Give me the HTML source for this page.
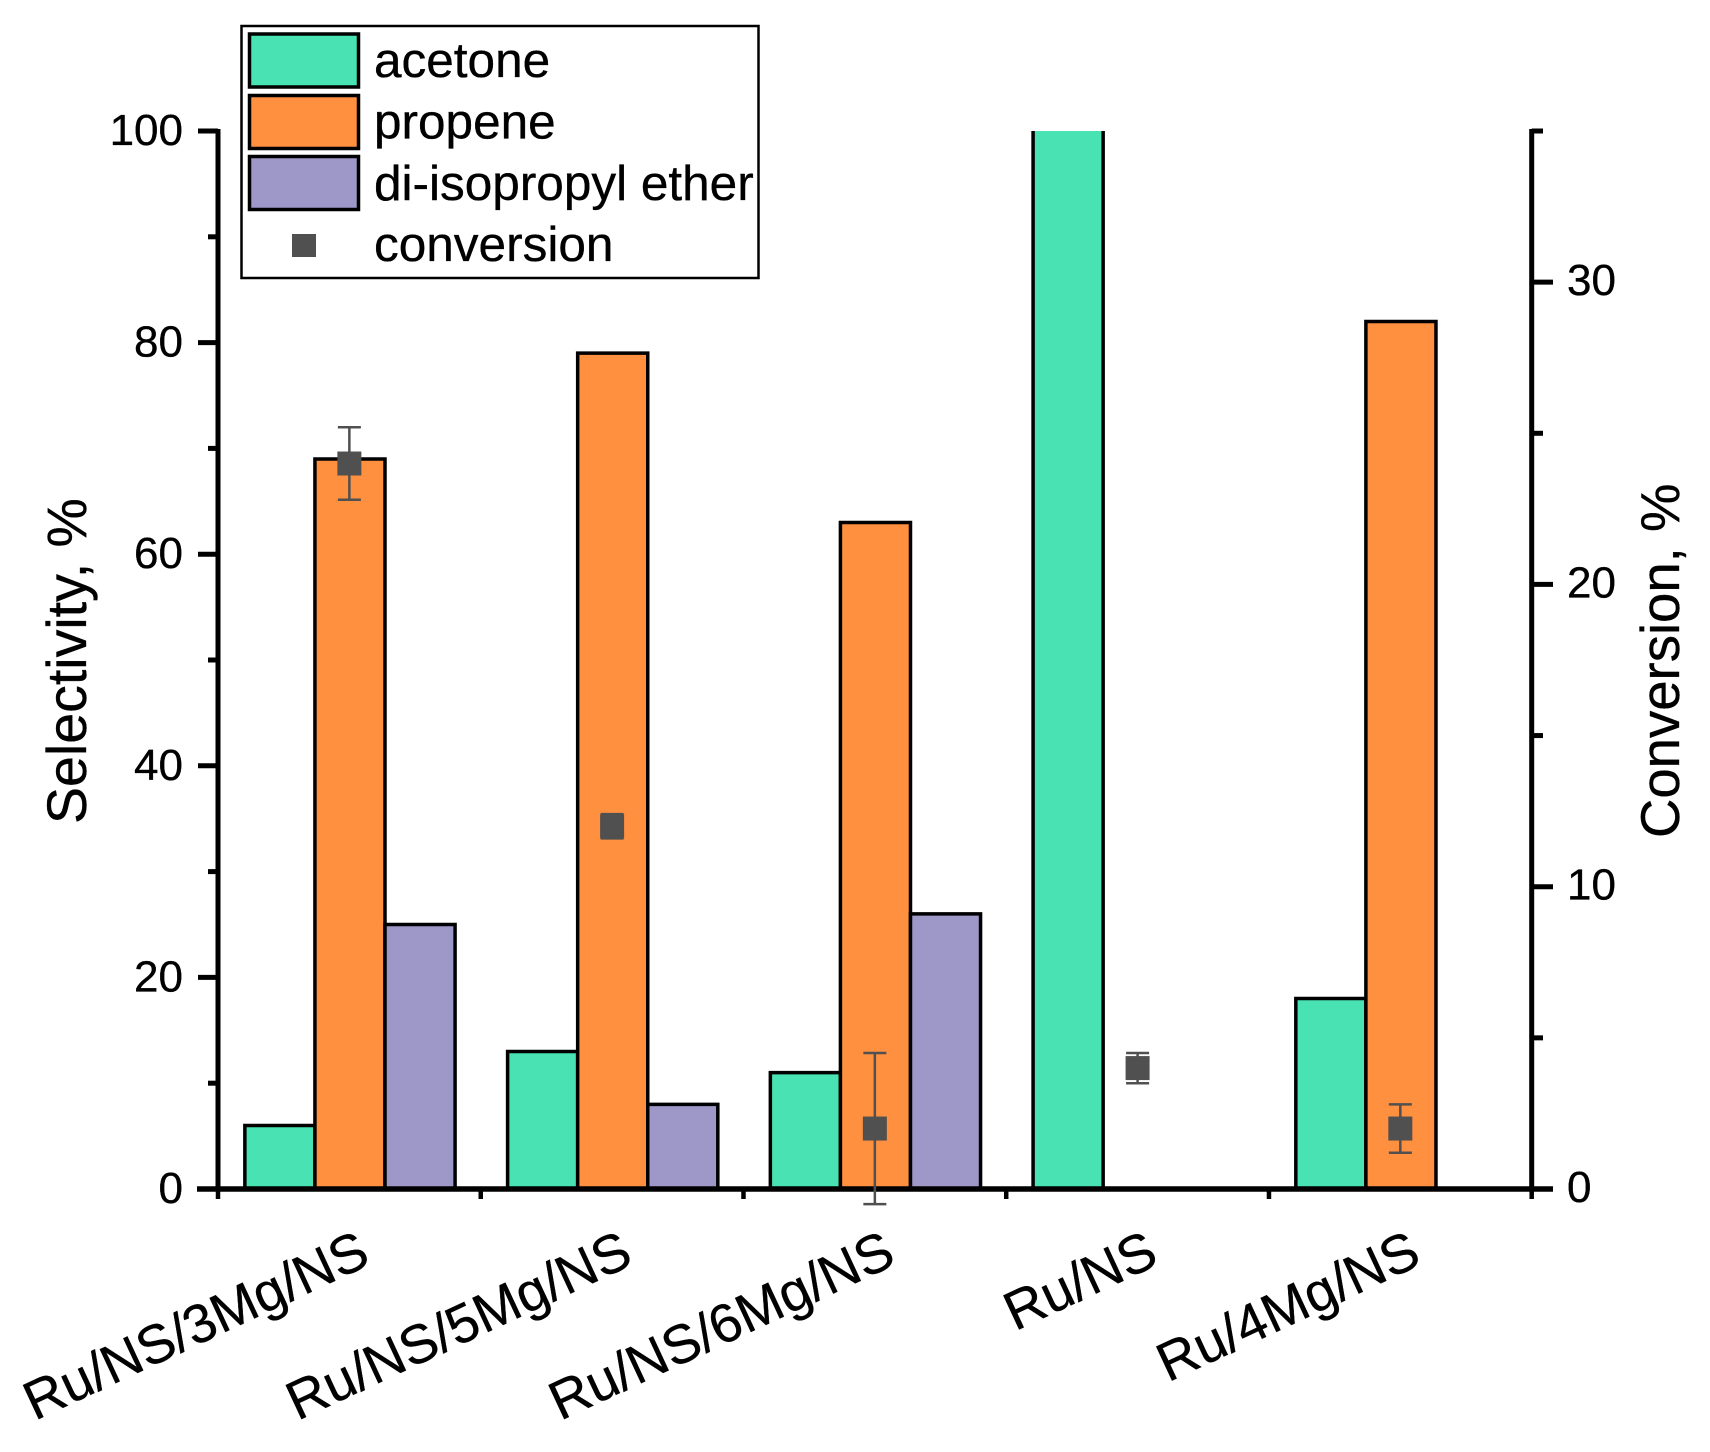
<!DOCTYPE html>
<html lang="en">
<head>
<meta charset="utf-8">
<title>Selectivity and conversion chart</title>
<style>
  html, body { margin: 0; padding: 0; background: #fff; }
  svg { display: block; }
  text { font-family: "Liberation Sans", Arial, sans-serif; fill: #000; stroke: #000; stroke-width: 0.35px; }
</style>
</head>
<body>
<svg id="chart" xmlns="http://www.w3.org/2000/svg" width="1710" height="1452" viewBox="0 0 1710 1452">
  <rect x="0" y="0" width="1710" height="1452" fill="#ffffff"/>
  <g id="bars"></g>
  <g id="axes"></g>
  <g id="points"></g>
  <text transform="translate(86 824) rotate(-90)" font-size="55.5">Selectivity, %</text>
  <text transform="translate(1679 838) rotate(-90)" font-size="54.5">Conversion, %</text>
  <g>
    <rect x="241.5" y="26" width="517" height="252" fill="#ffffff" stroke="#000" stroke-width="2.5"/>
    <rect x="249.5" y="34" width="109" height="53" fill="#48E2B3" stroke="#000" stroke-width="3.5"/>
    <text x="374" y="77" font-size="49.5">acetone</text>
    <rect x="249.5" y="95.5" width="109" height="53" fill="#FF9040" stroke="#000" stroke-width="3.5"/>
    <text x="374" y="138.5" font-size="49.5">propene</text>
    <rect x="249.5" y="156.5" width="109" height="53" fill="#9D98C8" stroke="#000" stroke-width="3.5"/>
    <text x="374" y="200" font-size="49.5">di-isopropyl ether</text>
    <rect x="292" y="234" width="24" height="23" fill="#505050"/>
    <text x="374" y="261" font-size="49.5">conversion</text>
  </g>
</svg>
<script>
const categories = ["Ru/NS/3Mg/NS", "Ru/NS/5Mg/NS", "Ru/NS/6Mg/NS", "Ru/NS", "Ru/4Mg/NS"];
const acetone = [6, 13, 11, 100, 18];
const propene = [69, 79, 63, 0, 82];
const ether = [25, 8, 26, 0, 0];
const conversion = [24, 12, 2, 4, 2];
const conversionError = [1.2, 0.4, 2.5, 0.5, 0.8];
const leftTickLabels = [0, 20, 40, 60, 80, 100];
const leftMinorTicks = [10, 30, 50, 70, 90];
const rightTickLabels = [0, 10, 20, 30];
const rightMinorTicks = [5, 15, 25, 35];

const NS = "http://www.w3.org/2000/svg";
const plotLeft = 218, plotRight = 1531.7, plotTop = 131, plotBottom = 1189;
const leftMax = 100, rightMax = 35;
const bandWidth = (plotRight - plotLeft) / categories.length;
const barWidth = bandWidth * 0.2667;

function yLeft(v) { return plotBottom - (v / leftMax) * (plotBottom - plotTop); }
function yRight(v) { return plotBottom - (v / rightMax) * (plotBottom - plotTop); }
function xCenter(i) { return plotLeft + bandWidth * (i + 0.5); }

function make(tag, attrs, parent) {
  const el = document.createElementNS(NS, tag);
  for (const k in attrs) el.setAttribute(k, attrs[k]);
  parent.appendChild(el);
  return el;
}

const barsGroup = document.getElementById("bars");
const axesGroup = document.getElementById("axes");
const pointsGroup = document.getElementById("points");
const seriesList = [
  { key: "acetone", values: acetone, color: "#48E2B3" },
  { key: "propene", values: propene, color: "#FF9040" },
  { key: "ether", values: ether, color: "#9D98C8" }
];

seriesList.forEach(function (series, s) {
  series.values.forEach(function (v, i) {
    const x0 = xCenter(i) + (s - 1.5) * barWidth + 0.6;
    const x1 = x0 + barWidth;
    const yT = yLeft(v);
    const fill = make("rect", { x: x0, y: yT, width: barWidth, height: plotBottom - yT, fill: series.color }, barsGroup);
    
    
    let d = "M" + x0 + " " + plotBottom + "V" + yT;
    d += (v < leftMax ? "H" + x1 : "M" + x1 + " " + yT);
    d += "V" + plotBottom;
    const edge = make("path", { d: d, fill: "none", stroke: "#000", "stroke-width": 3.5 }, barsGroup);
    
    
  });
});

function axisLine(x1, y1, x2, y2, w, name) {
  const l = make("line", { x1: x1, y1: y1, x2: x2, y2: y2, stroke: "#000", "stroke-width": w }, axesGroup);
  
  
}

axisLine(plotLeft, plotTop - 2, plotLeft, plotBottom, 5, 'left-y-axis-line');
axisLine(plotRight, plotTop - 2, plotRight, plotBottom, 5, 'right-y-axis-line');
axisLine(197, plotBottom, 1553, plotBottom, 5.5, 'x-axis-line');

leftTickLabels.forEach(function (v) {
  const y = yLeft(v);
  if (v !== 0) axisLine(198, y, plotLeft, y, 5, 'left-major-tick');
  const t = make("text", { x: 183, y: y + 14, "font-size": 44, "text-anchor": "end" }, axesGroup);
  t.textContent = String(v);
  
  
});
leftMinorTicks.forEach(function (v) {
  axisLine(208, yLeft(v), plotLeft, yLeft(v), 5, 'left-minor-tick');
});
rightTickLabels.forEach(function (v) {
  const y = yRight(v);
  if (v !== 0) axisLine(plotRight, y, 1553, y, 5, 'right-major-tick');
  const t = make("text", { x: 1567, y: y + 13, "font-size": 44 }, axesGroup);
  t.textContent = String(v);
  
  
});
rightMinorTicks.forEach(function (v) {
  axisLine(plotRight, yRight(v), 1543, yRight(v), 5, 'right-minor-tick');
});

for (let i = 0; i <= categories.length; i++) {
  const x = plotLeft + bandWidth * i;
  axisLine(x, plotBottom, x, 1199, 4.5, 'x-axis-tick');
}
categories.forEach(function (c, i) {
  const px = xCenter(i) + 23;
  const t = make("text", { "font-size": 54.5, "text-anchor": "end", transform: "translate(" + px + " 1263.5) rotate(-25)" }, axesGroup);
  t.textContent = c;
  
  
});

conversion.forEach(function (v, i) {
  const x = xCenter(i);
  const y = yRight(v);
  const yHi = yRight(v + conversionError[i]);
  const yLo = yRight(v - conversionError[i]);
  const err = make("path", {
    d: "M" + x + " " + yHi + "V" + yLo + "M" + (x - 11.5) + " " + yHi + "h23M" + (x - 11.5) + " " + yLo + "h23",
    fill: "none", stroke: "#505050", "stroke-width": 2.5
  }, pointsGroup);
  
  
  const sq = make("rect", { x: x - 12, y: y - 12, width: 24, height: 24, fill: "#505050" }, pointsGroup);
  
  
});
</script>
</body>
</html>
